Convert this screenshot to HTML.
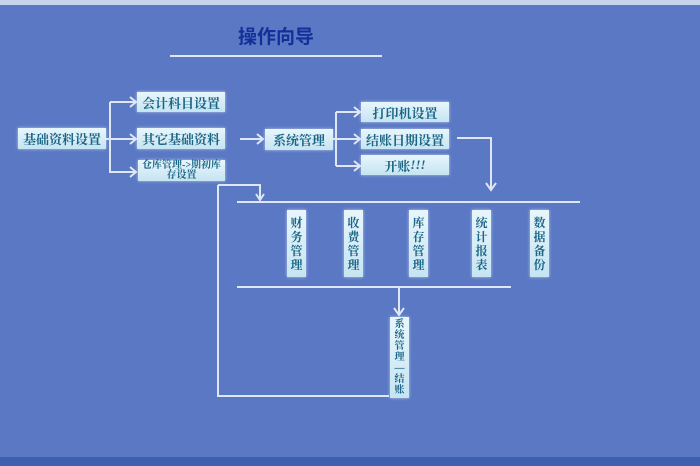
<!DOCTYPE html>
<html><head><meta charset="utf-8"><style>
body{margin:0;width:700px;height:466px;overflow:hidden;background:#5a78c4;font-family:"Liberation Serif","Noto Serif CJK SC","Noto Sans CJK SC",serif;}
.top{position:absolute;left:0;top:0;width:700px;height:5px;background:#c8d4ec}
.bot{position:absolute;left:0;top:457px;width:700px;height:9px;background:#3d5fb0}
.b{position:absolute;background:linear-gradient(#e8f6fc,#c6e4f2);color:#1a6585;font-weight:bold;font-size:13px;display:flex;align-items:center;justify-content:center;text-align:center;box-shadow:0 0 3px rgba(255,255,255,.6)}
.v{font-size:12px;line-height:14px;width:19px;}
svg{position:absolute;left:0;top:0}
</style></head><body>
<div class="top"></div><div class="bot"></div>
<div style="position:absolute;left:226px;top:22px;width:100px;text-align:center;font-size:19px;font-weight:bold;color:#13309a;font-family:'Noto Sans CJK SC',sans-serif">操作向导</div>
<svg width="700" height="466" fill="none" stroke="#dfe6f4" stroke-width="2">
<line x1="170" y1="56" x2="382" y2="56"/>
<path d="M106 139H110M110 102V173M110 102H136M110 139H136M110 172H136"/>
<path d="M130 97l6 5-6 5M130 134l6 5-6 5M130 167l6 5-6 5"/>
<path d="M240 139H263M257 134l6 5-6 5"/>
<path d="M333 139H336M336 112V166M336 112H360M336 139H360M336 166H360"/>
<path d="M354 107l6 5-6 5M354 134l6 5-6 5M354 161l6 5-6 5"/>
<path d="M457 138H491V190M486 183l5 7 5-7"/>
<line x1="237" y1="202" x2="580" y2="202"/>
<path d="M218 185H260V200M256 194l4 6 4-6"/>
<path d="M218 185V396H389"/>
<line x1="237" y1="287" x2="511" y2="287"/>
<path d="M399 287V315M394 308l5 7 5-7"/>
</svg>
<div class="b" style="left:18px;top:128px;width:88px;height:21px">基础资料设置</div>
<div class="b" style="left:137px;top:92px;width:88px;height:20px">会计科目设置</div>
<div class="b" style="left:137px;top:128px;width:88px;height:21px">其它基础资料</div>
<div class="b" style="left:138px;top:160px;width:87px;height:21px;font-size:10px;line-height:10px">仓库管理-&gt;期初库存设置</div>
<div class="b" style="left:265px;top:129px;width:68px;height:21px">系统管理</div>
<div class="b" style="left:361px;top:102px;width:88px;height:20px">打印机设置</div>
<div class="b" style="left:361px;top:129px;width:88px;height:20px">结账日期设置</div>
<div class="b" style="left:361px;top:155px;width:88px;height:20px">开账<i>!!!</i></div>
<div class="b v" style="left:287px;top:210px;height:67px">财务管理</div>
<div class="b v" style="left:344px;top:210px;height:67px">收费管理</div>
<div class="b v" style="left:409px;top:210px;height:67px">库存管理</div>
<div class="b v" style="left:472px;top:210px;height:67px">统计报表</div>
<div class="b v" style="left:530px;top:210px;height:67px">数据备份</div>
<div class="b v" style="left:390px;top:317px;height:81px;font-size:10px;line-height:11px">系统管理—结账</div>
</body></html>
